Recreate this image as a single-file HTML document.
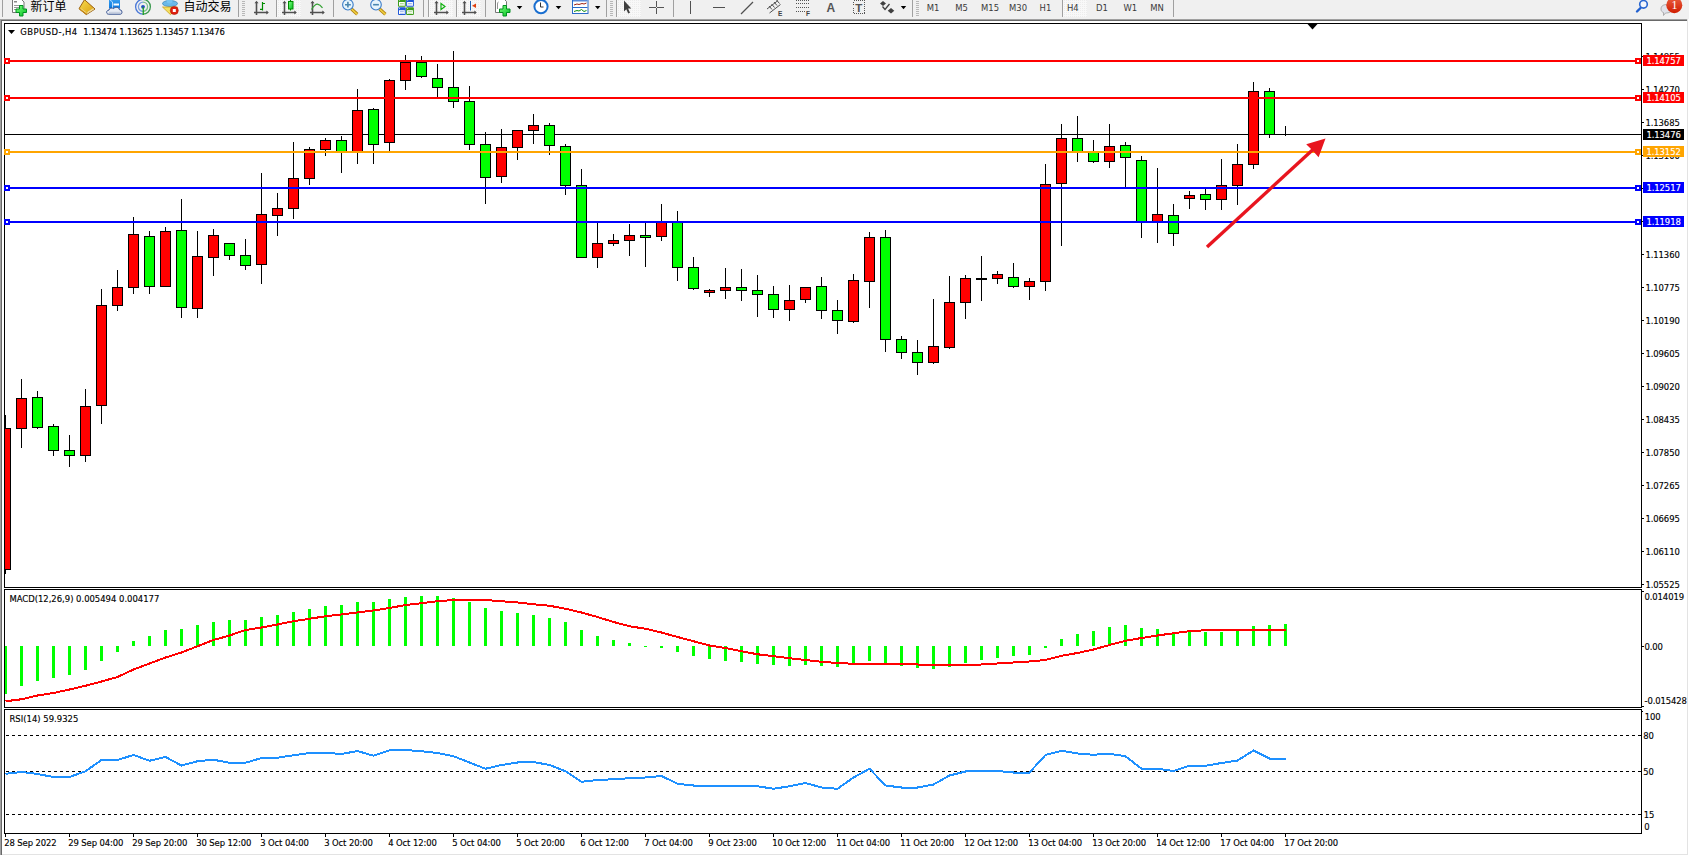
<!DOCTYPE html>
<html><head><meta charset="utf-8"><title>GBPUSD H4</title>
<style>
html,body{margin:0;padding:0;width:1689px;height:856px;overflow:hidden;background:#fff;}
#tb{position:absolute;left:0;top:0;width:1689px;height:19px;background:#f0f0f0;overflow:hidden;}
#ch{position:absolute;left:0;top:0;}
.ax{font-family:"DejaVu Sans Condensed", "DejaVu Sans", sans-serif;font-size:9.4px;letter-spacing:-0.1px;fill:#000;stroke:#000;stroke-width:0.14px;}
.axw{fill:#fff;stroke:#fff;}
</style></head><body>
<div id="tb">
<svg width="1689" height="19" viewBox="0 0 1689 19" style="position:absolute;left:0;top:0">
<defs>
<linearGradient id="gGold" x1="0" y1="0" x2="1" y2="1"><stop offset="0" stop-color="#f8dc50"/><stop offset="1" stop-color="#d89c10"/></linearGradient>
<linearGradient id="gBlue" x1="0" y1="0" x2="0" y2="1"><stop offset="0" stop-color="#3aa0f0"/><stop offset="1" stop-color="#0a78e0"/></linearGradient>
<linearGradient id="gGreen" x1="0" y1="0" x2="1" y2="1"><stop offset="0" stop-color="#80ff80"/><stop offset="1" stop-color="#00c020"/></linearGradient>
<linearGradient id="gNot" x1="0" y1="0" x2="0" y2="1"><stop offset="0" stop-color="#ea6040"/><stop offset="1" stop-color="#d01c00"/></linearGradient>
<pattern id="hatch" width="2" height="2" patternUnits="userSpaceOnUse"><rect width="2" height="2" fill="#f8f8f8"/><rect width="1" height="1" fill="#ececec"/></pattern>
</defs>
<!-- separators / grips -->
<g fill="#a0a0a0" shape-rendering="crispEdges">
<rect x="2" y="0" width="1" height="17"/>
<rect x="238" y="0" width="1" height="17"/>
<rect x="276" y="0" width="1" height="17"/>
<rect x="333" y="0" width="1" height="17"/>
<rect x="423" y="0" width="1" height="17"/>
<rect x="428" y="0" width="1" height="17"/>
<rect x="456" y="0" width="1" height="17"/>
<rect x="485" y="0" width="1" height="17"/>
<rect x="606" y="0" width="1" height="17"/>
<rect x="616" y="0" width="1" height="17"/>
<rect x="673" y="0" width="1" height="17"/>
<rect x="912" y="0" width="1" height="17"/>
<rect x="1062" y="0" width="1" height="17"/>
<rect x="1173" y="0" width="1" height="17"/>
</g>
<g fill="#b8b8b8" shape-rendering="crispEdges">
<rect x="242" y="1" width="3" height="1"/><rect x="242" y="3" width="3" height="1"/><rect x="242" y="5" width="3" height="1"/><rect x="242" y="7" width="3" height="1"/><rect x="242" y="9" width="3" height="1"/><rect x="242" y="11" width="3" height="1"/><rect x="242" y="13" width="3" height="1"/><rect x="242" y="15" width="3" height="1"/>
<rect x="610" y="1" width="3" height="1"/><rect x="610" y="3" width="3" height="1"/><rect x="610" y="5" width="3" height="1"/><rect x="610" y="7" width="3" height="1"/><rect x="610" y="9" width="3" height="1"/><rect x="610" y="11" width="3" height="1"/><rect x="610" y="13" width="3" height="1"/><rect x="610" y="15" width="3" height="1"/>
<rect x="916" y="1" width="3" height="1"/><rect x="916" y="3" width="3" height="1"/><rect x="916" y="5" width="3" height="1"/><rect x="916" y="7" width="3" height="1"/><rect x="916" y="9" width="3" height="1"/><rect x="916" y="11" width="3" height="1"/><rect x="916" y="13" width="3" height="1"/><rect x="916" y="15" width="3" height="1"/>
</g>
<!-- pressed button backgrounds -->
<g shape-rendering="crispEdges">
<rect x="277" y="0" width="24" height="17" fill="url(#hatch)"/>
<rect x="429" y="0" width="24" height="17" fill="url(#hatch)"/>
<rect x="457" y="0" width="24" height="17" fill="url(#hatch)"/>
<rect x="617" y="0" width="24" height="17" fill="url(#hatch)"/>
<rect x="1063" y="0" width="24" height="17" fill="url(#hatch)"/>
</g>
<!-- new order: doc + plus -->
<path d="M12.5,-1 L21,-1 L24,2 L24,12.5 L12.5,12.5 Z" fill="#fff" stroke="#777" stroke-width="1"/>
<rect x="14" y="1" width="3" height="1.5" fill="#888"/><rect x="14" y="5" width="6" height="1" fill="#999"/><rect x="14" y="7" width="5" height="1" fill="#999"/><rect x="14" y="9" width="4" height="1" fill="#999"/>
<path d="M19.5,5.5 h3.5 v3.5 h3.5 v3.5 h-3.5 v3.5 h-3.5 v-3.5 h-3.5 v-3.5 h3.5 z" fill="url(#gGreen)" stroke="#009020" stroke-width="1"/>
<!-- gold book -->
<path d="M84.5,-0.3 L79,8.7 L86.3,14.6 L95,9 Z" fill="url(#gGold)" stroke="#9a6010" stroke-width="1"/>
<path d="M79.8,8.9 L86.3,13.9" stroke="#c88a18" stroke-width="1.6"/>
<path d="M80.5,8.4 L86.5,12.9" stroke="#f8e8a0" stroke-width="0.8"/>
<path d="M87,13.4 L94,9 M87.5,12.3 L93.5,8.5" stroke="#f4ecc8" stroke-width="0.7"/>
<!-- server + cloud -->
<path d="M109,-1 L120,-1 L120,8.5 L109,8.5 Z" fill="url(#gBlue)"/>
<path d="M109,-1 L112.5,2 L112.5,8.5" fill="none" stroke="#e0f0ff" stroke-width="0.8"/>
<rect x="113.5" y="3.5" width="5.5" height="2" fill="#fff"/>
<path d="M108.5,14.2 C106,14.2 106,10.2 108.8,10.2 C109.2,8 112,7.3 113.6,8.6 C115.2,6.4 119,7 119.4,9.6 C122.3,9.5 123,14.2 120.2,14.2 Z" fill="#e8ecf4" stroke="#34508e" stroke-width="1"/>
<path d="M109,12.5 H120.5" stroke="#c8d0e0" stroke-width="1.5"/>
<!-- signal -->
<g fill="none" stroke-width="1.3">
<path d="M143,14.2 A7.4,7.4 0 0 1 143,-0.6" stroke="#4a78d8"/>
<path d="M143,-0.6 A7.4,7.4 0 0 1 143,14.2" stroke="#3c9a50"/>
<path d="M143,11.4 A4.6,4.6 0 0 1 143,2.2" stroke="#7a9ee0"/>
<path d="M143,2.2 A4.6,4.6 0 0 1 143,11.4" stroke="#7ac088"/>
</g>
<circle cx="143" cy="6.8" r="1.9" fill="#2050c0"/>
<rect x="142.6" y="7" width="1.3" height="8" fill="#20a020"/>
<!-- auto trading -->
<ellipse cx="170" cy="3.5" rx="7.5" ry="3" fill="#6ab8e8" stroke="#3a88b8" stroke-width="0.8"/>
<ellipse cx="169.5" cy="0.5" rx="3" ry="3" fill="#78c4f0"/>
<path d="M162.5,7 L177.5,7 L170.5,14.7 Z" fill="#f4e060" stroke="#c8a020" stroke-width="0.8"/>
<circle cx="174.3" cy="10.5" r="4" fill="#e02010" stroke="#b01000" stroke-width="0.6"/>
<rect x="172.8" y="9" width="3" height="3" fill="#fff"/>
<!-- bar chart icon -->
<g stroke="#505050" stroke-width="1.6" fill="none">
<path d="M256.5,2 V15 M254,12.5 H268"/>
<path d="M284.5,2 V15 M282,12.5 H296"/>
<path d="M312.5,2 V15 M310,12.5 H324"/>
</g>
<g fill="#505050">
<path d="M256.5,0.8 L254.5,3.3 L258.5,3.3 Z"/><path d="M268.8,12.5 L266.3,10.5 L266.3,14.5 Z"/>
<path d="M284.5,0.8 L282.5,3.3 L286.5,3.3 Z"/><path d="M296.8,12.5 L294.3,10.5 L294.3,14.5 Z"/>
<path d="M312.5,0.8 L310.5,3.3 L314.5,3.3 Z"/><path d="M324.8,12.5 L322.3,10.5 L322.3,14.5 Z"/>
</g>
<g stroke="#008c00" stroke-width="1.2" fill="none">
<path d="M262.5,2 V10.5 M262.5,3.5 H265 M262.5,9.3 H260"/>
<path d="M290.5,-1 V10.5"/>
<path d="M311.5,9.5 Q315,4 317.5,4.2 Q320,4.5 322.5,7.8" stroke="#30a030"/>
</g>
<rect x="288.5" y="1.5" width="4.5" height="7.5" fill="url(#gGreen)" stroke="#008c00" stroke-width="1"/>
<!-- zoom in/out -->
<g>
<path d="M351.5,9 L357.3,14.3" stroke="#b08010" stroke-width="3.2"/><path d="M351.5,9 L357.3,14.3" stroke="#f0d040" stroke-width="1.6"/>
<circle cx="347.9" cy="4.7" r="5.3" fill="#e6f4fc" stroke="#3a7cc8" stroke-width="1.1"/>
<path d="M347.9,1.8 V7.6 M345,4.7 H350.8" stroke="#4a86b0" stroke-width="1.6"/>
<path d="M379.6,9 L385.4,14.3" stroke="#b08010" stroke-width="3.2"/><path d="M379.6,9 L385.4,14.3" stroke="#f0d040" stroke-width="1.6"/>
<circle cx="376" cy="4.7" r="5.3" fill="#e6f4fc" stroke="#3a7cc8" stroke-width="1.1"/>
<path d="M373.1,4.7 H378.9" stroke="#4a86b0" stroke-width="1.6"/>
</g>
<!-- tile -->
<rect x="398" y="-0.9" width="7.8" height="7.6" rx="1" fill="#3c9c1c"/><rect x="399" y="2.0" width="5.8" height="3.8" fill="#fff"/><rect x="399" y="-0.30000000000000004" width="1" height="1" fill="#e0ffe0" opacity="0.8"/><rect x="400" y="3.0" width="3.8" height="0.9" fill="#a8d890"/><rect x="400" y="4.699999999999999" width="3.8" height="0.7" fill="#a8d890"/><rect x="406.1" y="-0.9" width="7.8" height="7.6" rx="1" fill="#2058d8"/><rect x="407.1" y="2.0" width="5.8" height="3.8" fill="#fff"/><rect x="407.1" y="-0.30000000000000004" width="1" height="1" fill="#e0ffe0" opacity="0.8"/><rect x="408.1" y="3.0" width="3.8" height="0.9" fill="#98b0e8"/><rect x="408.1" y="4.699999999999999" width="3.8" height="0.7" fill="#98b0e8"/><rect x="398" y="7.3" width="7.8" height="7.6" rx="1" fill="#2058d8"/><rect x="399" y="10.2" width="5.8" height="3.8" fill="#fff"/><rect x="399" y="7.8999999999999995" width="1" height="1" fill="#e0ffe0" opacity="0.8"/><rect x="400" y="11.2" width="3.8" height="0.9" fill="#98b0e8"/><rect x="400" y="12.899999999999999" width="3.8" height="0.7" fill="#98b0e8"/><rect x="406.1" y="7.3" width="7.8" height="7.6" rx="1" fill="#3c9c1c"/><rect x="407.1" y="10.2" width="5.8" height="3.8" fill="#fff"/><rect x="407.1" y="7.8999999999999995" width="1" height="1" fill="#e0ffe0" opacity="0.8"/><rect x="408.1" y="11.2" width="3.8" height="0.9" fill="#a8d890"/><rect x="408.1" y="12.899999999999999" width="3.8" height="0.7" fill="#a8d890"/>
<!-- autoscroll & chart shift -->
<g stroke="#505050" stroke-width="1.6" fill="none">
<path d="M436.5,2 V15 M434,12.5 H448"/>
<path d="M464.5,2 V15 M462,12.5 H476"/>
</g>
<g fill="#505050">
<path d="M436.5,0.8 L434.5,3.3 L438.5,3.3 Z"/><path d="M448.8,12.5 L446.3,10.5 L446.3,14.5 Z"/>
<path d="M464.5,0.8 L462.5,3.3 L466.5,3.3 Z"/><path d="M476.8,12.5 L474.3,10.5 L474.3,14.5 Z"/>
</g>
<path d="M441,3.5 L445,6.5 L441,9.5 Z" fill="none" stroke="#10b010" stroke-width="1.2"/>
<rect x="470" y="1" width="1" height="9.5" fill="#2060b0"/>
<path d="M472,5.8 L476,3.5 L476,8 Z" fill="#e04010"/>
<!-- indicators -->
<path d="M495.5,-1 L504,-1 L506.5,1.5 L506.5,12.5 L495.5,12.5 Z" fill="#fff" stroke="#777" stroke-width="1"/>
<path d="M498.5,2 Q497.5,2 497.5,4 L497.5,9" fill="none" stroke="#777" stroke-width="0.8"/>
<path d="M503,5.5 h3.5 v3.5 h3.5 v3.5 h-3.5 v3.5 h-3.5 v-3.5 h-3.5 v-3.5 h3.5 z" fill="url(#gGreen)" stroke="#009020" stroke-width="1"/>
<!-- clock -->
<circle cx="541" cy="6.6" r="6.6" fill="#fff" stroke="#1a6fd0" stroke-width="2"/>
<path d="M540.5,2.5 V7 H543.5" fill="none" stroke="#333" stroke-width="1"/>
<!-- templates -->
<rect x="572.5" y="-0.5" width="15.5" height="14" fill="#fff" stroke="#2a6ac8" stroke-width="1"/>
<rect x="573" y="0" width="14.5" height="1.5" fill="#5a8ad8"/>
<rect x="573" y="7" width="14.5" height="1" fill="#2a6ac8"/>
<path d="M574,5 L577,4 L579,4.5 L582,3.5 L584,4 L586.5,3" fill="none" stroke="#a02010" stroke-width="1"/>
<path d="M574,11.5 L577,10.5 L579,11 L581.5,9.5 L584,11.5 L586.5,10.5" fill="none" stroke="#109010" stroke-width="1"/>
<!-- dropdown arrows -->
<g fill="#000">
<path d="M516.8,6 L522.3,6 L519.55,9.3 Z"/>
<path d="M555.7,6 L561.3,6 L558.5,9.3 Z"/>
<path d="M595,6 L600.4,6 L597.7,9.3 Z"/>
<path d="M900.8,6 L906.2,6 L903.5,9.3 Z"/>
</g>
<!-- cursor -->
<path d="M624,0.5 L624,11.5 L626.3,9.3 L628.2,13.6 L630,12.8 L628.1,8.6 L631.3,8.4 Z" fill="#404040"/>
<!-- crosshair -->
<g fill="#555" shape-rendering="crispEdges">
<rect x="656" y="1" width="1" height="13"/><rect x="649" y="7" width="15" height="1"/>
</g>
<rect x="656" y="7" width="1" height="1" fill="#f0f0f0" shape-rendering="crispEdges"/>
<!-- vertical / horizontal / trend -->
<g fill="#505050" shape-rendering="crispEdges">
<rect x="690" y="1" width="1.3" height="12.5"/>
<rect x="713" y="7" width="12" height="1.2"/>
</g>
<path d="M741,14 L753,2" stroke="#505050" stroke-width="1.2"/>
<!-- channel E -->
<g stroke="#505050" stroke-width="1" fill="none">
<path d="M767,9 L778,0.5 M769.5,13 L780.5,4.5"/>
<path d="M769,6 L772,9.5 M771.5,4 L774.5,7.5 M774,2 L777,5.5 M776.5,0 L779.5,3.5"/>
</g>
<text x="778" y="15.5" style="font-family:'Liberation Sans',sans-serif;font-size:6.5px;font-weight:bold;fill:#404040">E</text>
<!-- fibo F -->
<g stroke="#555" stroke-width="1" stroke-dasharray="1 1" shape-rendering="crispEdges">
<path d="M796,0.5 H810 M796,3.5 H810 M796,7.5 H810 M796,11.5 H805"/>
</g>
<text x="806" y="15.5" style="font-family:'Liberation Sans',sans-serif;font-size:6.5px;font-weight:bold;fill:#404040">F</text>
<!-- A text -->
<text x="826.5" y="12.2" style="font-family:'Liberation Sans',sans-serif;font-size:12px;font-weight:bold;fill:#555">A</text>
<!-- T label -->
<rect x="853.5" y="0.5" width="11" height="13" fill="none" stroke="#555" stroke-width="1" stroke-dasharray="1 1" shape-rendering="crispEdges"/>
<text x="855.2" y="11.8" style="font-family:'Liberation Sans',sans-serif;font-size:11.5px;font-weight:bold;fill:#555">T</text>
<!-- arrows icon -->
<path d="M883,1 L886,3.5 L883,6 L880,3.5 Z" fill="#404040"/>
<path d="M891,8 L894.3,10.8 L891,13.6 L887.7,10.8 Z" fill="#404040"/>
<path d="M882.5,6.5 L885,9.5 L889.5,4" fill="none" stroke="#404040" stroke-width="1.3"/>
<!-- search -->
<path d="M1637,11.5 L1640.5,8" stroke="#2060d0" stroke-width="2.4" stroke-linecap="round"/>
<circle cx="1643.5" cy="4.3" r="3.8" fill="#f4f6fc" stroke="#2a66d0" stroke-width="1.6"/>
<!-- notification -->
<path d="M1661,9 C1661,5.5 1664,4.5 1667,4.5 C1670,4.5 1672,6 1672,9 C1672,12 1669,13 1665.5,13 L1663.5,15.5 L1663.5,12.5 C1662,12 1661,11 1661,9 Z" fill="#e0e2ea" stroke="#a0a0a0" stroke-width="0.8"/>
<circle cx="1674.3" cy="5.2" r="8" fill="url(#gNot)"/>
<text x="1671.4" y="9.2" style="font-family:'Liberation Serif',serif;font-size:12px;fill:#fff">1</text>
<g style="font-family:'Liberation Sans','Noto Sans CJK SC',sans-serif;font-size:12px;fill:#000">
<text x="30.5" y="10.5">新订单</text>
<text x="183.5" y="10.5">自动交易</text>
</g>
<g style="font-family:'DejaVu Sans Condensed','DejaVu Sans',sans-serif;font-size:9.4px;fill:#3a3a3a">
<text x="926.8" y="11">M1</text>
<text x="955.3" y="11">M5</text>
<text x="981" y="11">M15</text>
<text x="1009" y="11">M30</text>
<text x="1039.6" y="11">H1</text>
<text x="1067" y="11">H4</text>
<text x="1096" y="11">D1</text>
<text x="1123.4" y="11">W1</text>
<text x="1150.3" y="11">MN</text>
</g>
</svg>

</div>
<svg id="ch" width="1689" height="856" viewBox="0 0 1689 856" shape-rendering="crispEdges">
<rect x="0" y="19" width="1687" height="1" fill="#a0a0a0"/>
<rect x="1" y="20" width="1686" height="1" fill="#696969"/>
<rect x="0" y="19" width="1" height="836" fill="#a0a0a0"/>
<rect x="1" y="20" width="1" height="835" fill="#696969"/>
<rect x="1687" y="19" width="1" height="836" fill="#e3e3e3"/>
<rect x="2" y="854" width="1686" height="1" fill="#e3e3e3"/>
<rect x="4" y="23" width="1638" height="1" fill="#000"/>
<rect x="4" y="587" width="1638" height="1" fill="#000"/>
<rect x="4" y="23" width="1" height="565" fill="#000"/>
<rect x="1641" y="23" width="1" height="565" fill="#000"/>
<rect x="4" y="589" width="1638" height="1" fill="#000"/>
<rect x="4" y="707" width="1638" height="1" fill="#000"/>
<rect x="4" y="589" width="1" height="119" fill="#000"/>
<rect x="1641" y="589" width="1" height="119" fill="#000"/>
<rect x="4" y="709" width="1638" height="1" fill="#000"/>
<rect x="4" y="833" width="1638" height="1" fill="#000"/>
<rect x="4" y="709" width="1" height="125" fill="#000"/>
<rect x="1641" y="709" width="1" height="125" fill="#000"/>
<defs><clipPath id="cm"><rect x="5" y="24" width="1636" height="563"/></clipPath><clipPath id="cmacd"><rect x="5" y="590" width="1636" height="117"/></clipPath><clipPath id="crsi"><rect x="5" y="710" width="1636" height="123"/></clipPath></defs>
<g clip-path="url(#cm)">
<rect x="5" y="134" width="1636" height="1" fill="#000"/>
<rect x="5" y="415" width="1" height="13" fill="#000"/>
<rect x="5" y="570" width="1" height="4" fill="#000"/>
<rect x="0" y="428" width="11" height="142" fill="#000"/>
<rect x="1" y="429" width="9" height="140" fill="#FF0000"/>
<rect x="21" y="379" width="1" height="19" fill="#000"/>
<rect x="21" y="429" width="1" height="19" fill="#000"/>
<rect x="16" y="398" width="11" height="31" fill="#000"/>
<rect x="17" y="399" width="9" height="29" fill="#FF0000"/>
<rect x="37" y="391" width="1" height="6" fill="#000"/>
<rect x="37" y="428" width="1" height="1" fill="#000"/>
<rect x="32" y="397" width="11" height="31" fill="#000"/>
<rect x="33" y="398" width="9" height="29" fill="#00FF00"/>
<rect x="53" y="424" width="1" height="2" fill="#000"/>
<rect x="53" y="451" width="1" height="5" fill="#000"/>
<rect x="48" y="426" width="11" height="25" fill="#000"/>
<rect x="49" y="427" width="9" height="23" fill="#00FF00"/>
<rect x="69" y="435" width="1" height="15" fill="#000"/>
<rect x="69" y="456" width="1" height="11" fill="#000"/>
<rect x="64" y="450" width="11" height="6" fill="#000"/>
<rect x="65" y="451" width="9" height="4" fill="#00FF00"/>
<rect x="85" y="389" width="1" height="17" fill="#000"/>
<rect x="85" y="456" width="1" height="6" fill="#000"/>
<rect x="80" y="406" width="11" height="50" fill="#000"/>
<rect x="81" y="407" width="9" height="48" fill="#FF0000"/>
<rect x="101" y="289" width="1" height="16" fill="#000"/>
<rect x="101" y="406" width="1" height="18" fill="#000"/>
<rect x="96" y="305" width="11" height="101" fill="#000"/>
<rect x="97" y="306" width="9" height="99" fill="#FF0000"/>
<rect x="117" y="270" width="1" height="17" fill="#000"/>
<rect x="117" y="306" width="1" height="5" fill="#000"/>
<rect x="112" y="287" width="11" height="19" fill="#000"/>
<rect x="113" y="288" width="9" height="17" fill="#FF0000"/>
<rect x="133" y="217" width="1" height="17" fill="#000"/>
<rect x="133" y="288" width="1" height="6" fill="#000"/>
<rect x="128" y="234" width="11" height="54" fill="#000"/>
<rect x="129" y="235" width="9" height="52" fill="#FF0000"/>
<rect x="149" y="231" width="1" height="5" fill="#000"/>
<rect x="149" y="287" width="1" height="7" fill="#000"/>
<rect x="144" y="236" width="11" height="51" fill="#000"/>
<rect x="145" y="237" width="9" height="49" fill="#00FF00"/>
<rect x="165" y="227" width="1" height="4" fill="#000"/>
<rect x="160" y="231" width="11" height="56" fill="#000"/>
<rect x="161" y="232" width="9" height="54" fill="#FF0000"/>
<rect x="181" y="199" width="1" height="31" fill="#000"/>
<rect x="181" y="308" width="1" height="10" fill="#000"/>
<rect x="176" y="230" width="11" height="78" fill="#000"/>
<rect x="177" y="231" width="9" height="76" fill="#00FF00"/>
<rect x="197" y="231" width="1" height="25" fill="#000"/>
<rect x="197" y="309" width="1" height="9" fill="#000"/>
<rect x="192" y="256" width="11" height="53" fill="#000"/>
<rect x="193" y="257" width="9" height="51" fill="#FF0000"/>
<rect x="213" y="229" width="1" height="6" fill="#000"/>
<rect x="213" y="258" width="1" height="18" fill="#000"/>
<rect x="208" y="235" width="11" height="23" fill="#000"/>
<rect x="209" y="236" width="9" height="21" fill="#FF0000"/>
<rect x="229" y="256" width="1" height="4" fill="#000"/>
<rect x="224" y="243" width="11" height="13" fill="#000"/>
<rect x="225" y="244" width="9" height="11" fill="#00FF00"/>
<rect x="245" y="239" width="1" height="16" fill="#000"/>
<rect x="245" y="266" width="1" height="4" fill="#000"/>
<rect x="240" y="255" width="11" height="11" fill="#000"/>
<rect x="241" y="256" width="9" height="9" fill="#00FF00"/>
<rect x="261" y="173" width="1" height="41" fill="#000"/>
<rect x="261" y="265" width="1" height="19" fill="#000"/>
<rect x="256" y="214" width="11" height="51" fill="#000"/>
<rect x="257" y="215" width="9" height="49" fill="#FF0000"/>
<rect x="277" y="193" width="1" height="15" fill="#000"/>
<rect x="277" y="216" width="1" height="20" fill="#000"/>
<rect x="272" y="208" width="11" height="8" fill="#000"/>
<rect x="273" y="209" width="9" height="6" fill="#FF0000"/>
<rect x="293" y="142" width="1" height="36" fill="#000"/>
<rect x="293" y="209" width="1" height="10" fill="#000"/>
<rect x="288" y="178" width="11" height="31" fill="#000"/>
<rect x="289" y="179" width="9" height="29" fill="#FF0000"/>
<rect x="309" y="147" width="1" height="2" fill="#000"/>
<rect x="309" y="179" width="1" height="6" fill="#000"/>
<rect x="304" y="149" width="11" height="30" fill="#000"/>
<rect x="305" y="150" width="9" height="28" fill="#FF0000"/>
<rect x="325" y="138" width="1" height="2" fill="#000"/>
<rect x="325" y="150" width="1" height="6" fill="#000"/>
<rect x="320" y="140" width="11" height="10" fill="#000"/>
<rect x="321" y="141" width="9" height="8" fill="#FF0000"/>
<rect x="341" y="136" width="1" height="4" fill="#000"/>
<rect x="341" y="152" width="1" height="21" fill="#000"/>
<rect x="336" y="140" width="11" height="12" fill="#000"/>
<rect x="337" y="141" width="9" height="10" fill="#00FF00"/>
<rect x="357" y="89" width="1" height="21" fill="#000"/>
<rect x="357" y="152" width="1" height="12" fill="#000"/>
<rect x="352" y="110" width="11" height="42" fill="#000"/>
<rect x="353" y="111" width="9" height="40" fill="#FF0000"/>
<rect x="373" y="108" width="1" height="1" fill="#000"/>
<rect x="373" y="145" width="1" height="19" fill="#000"/>
<rect x="368" y="109" width="11" height="36" fill="#000"/>
<rect x="369" y="110" width="9" height="34" fill="#00FF00"/>
<rect x="389" y="79" width="1" height="1" fill="#000"/>
<rect x="389" y="143" width="1" height="8" fill="#000"/>
<rect x="384" y="80" width="11" height="63" fill="#000"/>
<rect x="385" y="81" width="9" height="61" fill="#FF0000"/>
<rect x="405" y="55" width="1" height="7" fill="#000"/>
<rect x="405" y="81" width="1" height="9" fill="#000"/>
<rect x="400" y="62" width="11" height="19" fill="#000"/>
<rect x="401" y="63" width="9" height="17" fill="#FF0000"/>
<rect x="421" y="56" width="1" height="6" fill="#000"/>
<rect x="421" y="77" width="1" height="1" fill="#000"/>
<rect x="416" y="62" width="11" height="15" fill="#000"/>
<rect x="417" y="63" width="9" height="13" fill="#00FF00"/>
<rect x="437" y="64" width="1" height="14" fill="#000"/>
<rect x="437" y="88" width="1" height="10" fill="#000"/>
<rect x="432" y="78" width="11" height="10" fill="#000"/>
<rect x="433" y="79" width="9" height="8" fill="#00FF00"/>
<rect x="453" y="51" width="1" height="36" fill="#000"/>
<rect x="453" y="102" width="1" height="6" fill="#000"/>
<rect x="448" y="87" width="11" height="15" fill="#000"/>
<rect x="449" y="88" width="9" height="13" fill="#00FF00"/>
<rect x="469" y="86" width="1" height="15" fill="#000"/>
<rect x="469" y="145" width="1" height="5" fill="#000"/>
<rect x="464" y="101" width="11" height="44" fill="#000"/>
<rect x="465" y="102" width="9" height="42" fill="#00FF00"/>
<rect x="485" y="132" width="1" height="12" fill="#000"/>
<rect x="485" y="178" width="1" height="26" fill="#000"/>
<rect x="480" y="144" width="11" height="34" fill="#000"/>
<rect x="481" y="145" width="9" height="32" fill="#00FF00"/>
<rect x="501" y="129" width="1" height="18" fill="#000"/>
<rect x="501" y="177" width="1" height="6" fill="#000"/>
<rect x="496" y="147" width="11" height="30" fill="#000"/>
<rect x="497" y="148" width="9" height="28" fill="#FF0000"/>
<rect x="517" y="148" width="1" height="12" fill="#000"/>
<rect x="512" y="130" width="11" height="18" fill="#000"/>
<rect x="513" y="131" width="9" height="16" fill="#FF0000"/>
<rect x="533" y="114" width="1" height="11" fill="#000"/>
<rect x="533" y="131" width="1" height="13" fill="#000"/>
<rect x="528" y="125" width="11" height="6" fill="#000"/>
<rect x="529" y="126" width="9" height="4" fill="#FF0000"/>
<rect x="549" y="123" width="1" height="2" fill="#000"/>
<rect x="549" y="146" width="1" height="9" fill="#000"/>
<rect x="544" y="125" width="11" height="21" fill="#000"/>
<rect x="545" y="126" width="9" height="19" fill="#00FF00"/>
<rect x="565" y="144" width="1" height="2" fill="#000"/>
<rect x="565" y="186" width="1" height="9" fill="#000"/>
<rect x="560" y="146" width="11" height="40" fill="#000"/>
<rect x="561" y="147" width="9" height="38" fill="#00FF00"/>
<rect x="581" y="169" width="1" height="16" fill="#000"/>
<rect x="576" y="185" width="11" height="73" fill="#000"/>
<rect x="577" y="186" width="9" height="71" fill="#00FF00"/>
<rect x="597" y="223" width="1" height="20" fill="#000"/>
<rect x="597" y="258" width="1" height="10" fill="#000"/>
<rect x="592" y="243" width="11" height="15" fill="#000"/>
<rect x="593" y="244" width="9" height="13" fill="#FF0000"/>
<rect x="613" y="234" width="1" height="6" fill="#000"/>
<rect x="613" y="244" width="1" height="2" fill="#000"/>
<rect x="608" y="240" width="11" height="4" fill="#000"/>
<rect x="609" y="241" width="9" height="2" fill="#FF0000"/>
<rect x="629" y="224" width="1" height="11" fill="#000"/>
<rect x="629" y="241" width="1" height="15" fill="#000"/>
<rect x="624" y="235" width="11" height="6" fill="#000"/>
<rect x="625" y="236" width="9" height="4" fill="#FF0000"/>
<rect x="645" y="223" width="1" height="12" fill="#000"/>
<rect x="645" y="238" width="1" height="29" fill="#000"/>
<rect x="640" y="235" width="11" height="3" fill="#000"/>
<rect x="641" y="236" width="9" height="1" fill="#00FF00"/>
<rect x="661" y="204" width="1" height="18" fill="#000"/>
<rect x="661" y="237" width="1" height="4" fill="#000"/>
<rect x="656" y="222" width="11" height="15" fill="#000"/>
<rect x="657" y="223" width="9" height="13" fill="#FF0000"/>
<rect x="677" y="211" width="1" height="11" fill="#000"/>
<rect x="677" y="268" width="1" height="13" fill="#000"/>
<rect x="672" y="222" width="11" height="46" fill="#000"/>
<rect x="673" y="223" width="9" height="44" fill="#00FF00"/>
<rect x="693" y="257" width="1" height="10" fill="#000"/>
<rect x="693" y="289" width="1" height="1" fill="#000"/>
<rect x="688" y="267" width="11" height="22" fill="#000"/>
<rect x="689" y="268" width="9" height="20" fill="#00FF00"/>
<rect x="709" y="289" width="1" height="1" fill="#000"/>
<rect x="709" y="293" width="1" height="4" fill="#000"/>
<rect x="704" y="290" width="11" height="3" fill="#000"/>
<rect x="705" y="291" width="9" height="1" fill="#FF0000"/>
<rect x="725" y="268" width="1" height="19" fill="#000"/>
<rect x="725" y="291" width="1" height="8" fill="#000"/>
<rect x="720" y="287" width="11" height="4" fill="#000"/>
<rect x="721" y="288" width="9" height="2" fill="#FF0000"/>
<rect x="741" y="269" width="1" height="18" fill="#000"/>
<rect x="741" y="291" width="1" height="10" fill="#000"/>
<rect x="736" y="287" width="11" height="4" fill="#000"/>
<rect x="737" y="288" width="9" height="2" fill="#00FF00"/>
<rect x="757" y="275" width="1" height="15" fill="#000"/>
<rect x="757" y="295" width="1" height="22" fill="#000"/>
<rect x="752" y="290" width="11" height="5" fill="#000"/>
<rect x="753" y="291" width="9" height="3" fill="#00FF00"/>
<rect x="773" y="286" width="1" height="8" fill="#000"/>
<rect x="773" y="310" width="1" height="8" fill="#000"/>
<rect x="768" y="294" width="11" height="16" fill="#000"/>
<rect x="769" y="295" width="9" height="14" fill="#00FF00"/>
<rect x="789" y="285" width="1" height="15" fill="#000"/>
<rect x="789" y="310" width="1" height="11" fill="#000"/>
<rect x="784" y="300" width="11" height="10" fill="#000"/>
<rect x="785" y="301" width="9" height="8" fill="#FF0000"/>
<rect x="805" y="300" width="1" height="3" fill="#000"/>
<rect x="800" y="287" width="11" height="13" fill="#000"/>
<rect x="801" y="288" width="9" height="11" fill="#FF0000"/>
<rect x="821" y="277" width="1" height="9" fill="#000"/>
<rect x="821" y="311" width="1" height="8" fill="#000"/>
<rect x="816" y="286" width="11" height="25" fill="#000"/>
<rect x="817" y="287" width="9" height="23" fill="#00FF00"/>
<rect x="837" y="300" width="1" height="10" fill="#000"/>
<rect x="837" y="321" width="1" height="13" fill="#000"/>
<rect x="832" y="310" width="11" height="11" fill="#000"/>
<rect x="833" y="311" width="9" height="9" fill="#00FF00"/>
<rect x="853" y="274" width="1" height="6" fill="#000"/>
<rect x="853" y="322" width="1" height="1" fill="#000"/>
<rect x="848" y="280" width="11" height="42" fill="#000"/>
<rect x="849" y="281" width="9" height="40" fill="#FF0000"/>
<rect x="869" y="232" width="1" height="5" fill="#000"/>
<rect x="869" y="282" width="1" height="26" fill="#000"/>
<rect x="864" y="237" width="11" height="45" fill="#000"/>
<rect x="865" y="238" width="9" height="43" fill="#FF0000"/>
<rect x="885" y="230" width="1" height="7" fill="#000"/>
<rect x="885" y="340" width="1" height="12" fill="#000"/>
<rect x="880" y="237" width="11" height="103" fill="#000"/>
<rect x="881" y="238" width="9" height="101" fill="#00FF00"/>
<rect x="901" y="336" width="1" height="3" fill="#000"/>
<rect x="901" y="353" width="1" height="6" fill="#000"/>
<rect x="896" y="339" width="11" height="14" fill="#000"/>
<rect x="897" y="340" width="9" height="12" fill="#00FF00"/>
<rect x="917" y="340" width="1" height="12" fill="#000"/>
<rect x="917" y="363" width="1" height="12" fill="#000"/>
<rect x="912" y="352" width="11" height="11" fill="#000"/>
<rect x="913" y="353" width="9" height="9" fill="#00FF00"/>
<rect x="933" y="299" width="1" height="47" fill="#000"/>
<rect x="933" y="363" width="1" height="1" fill="#000"/>
<rect x="928" y="346" width="11" height="17" fill="#000"/>
<rect x="929" y="347" width="9" height="15" fill="#FF0000"/>
<rect x="949" y="276" width="1" height="26" fill="#000"/>
<rect x="949" y="348" width="1" height="1" fill="#000"/>
<rect x="944" y="302" width="11" height="46" fill="#000"/>
<rect x="945" y="303" width="9" height="44" fill="#FF0000"/>
<rect x="965" y="275" width="1" height="3" fill="#000"/>
<rect x="965" y="303" width="1" height="16" fill="#000"/>
<rect x="960" y="278" width="11" height="25" fill="#000"/>
<rect x="961" y="279" width="9" height="23" fill="#FF0000"/>
<rect x="981" y="256" width="1" height="45" fill="#000"/>
<rect x="976" y="278" width="11" height="2" fill="#000"/>
<rect x="997" y="271" width="1" height="3" fill="#000"/>
<rect x="997" y="279" width="1" height="5" fill="#000"/>
<rect x="992" y="274" width="11" height="5" fill="#000"/>
<rect x="993" y="275" width="9" height="3" fill="#FF0000"/>
<rect x="1013" y="263" width="1" height="14" fill="#000"/>
<rect x="1013" y="287" width="1" height="1" fill="#000"/>
<rect x="1008" y="277" width="11" height="10" fill="#000"/>
<rect x="1009" y="278" width="9" height="8" fill="#00FF00"/>
<rect x="1029" y="278" width="1" height="3" fill="#000"/>
<rect x="1029" y="287" width="1" height="13" fill="#000"/>
<rect x="1024" y="281" width="11" height="6" fill="#000"/>
<rect x="1025" y="282" width="9" height="4" fill="#FF0000"/>
<rect x="1045" y="164" width="1" height="20" fill="#000"/>
<rect x="1045" y="282" width="1" height="9" fill="#000"/>
<rect x="1040" y="184" width="11" height="98" fill="#000"/>
<rect x="1041" y="185" width="9" height="96" fill="#FF0000"/>
<rect x="1061" y="124" width="1" height="14" fill="#000"/>
<rect x="1061" y="184" width="1" height="62" fill="#000"/>
<rect x="1056" y="138" width="11" height="46" fill="#000"/>
<rect x="1057" y="139" width="9" height="44" fill="#FF0000"/>
<rect x="1077" y="116" width="1" height="22" fill="#000"/>
<rect x="1077" y="152" width="1" height="10" fill="#000"/>
<rect x="1072" y="138" width="11" height="14" fill="#000"/>
<rect x="1073" y="139" width="9" height="12" fill="#00FF00"/>
<rect x="1093" y="140" width="1" height="12" fill="#000"/>
<rect x="1093" y="162" width="1" height="1" fill="#000"/>
<rect x="1088" y="152" width="11" height="10" fill="#000"/>
<rect x="1089" y="153" width="9" height="8" fill="#00FF00"/>
<rect x="1109" y="124" width="1" height="22" fill="#000"/>
<rect x="1109" y="162" width="1" height="6" fill="#000"/>
<rect x="1104" y="146" width="11" height="16" fill="#000"/>
<rect x="1105" y="147" width="9" height="14" fill="#FF0000"/>
<rect x="1125" y="142" width="1" height="3" fill="#000"/>
<rect x="1125" y="158" width="1" height="29" fill="#000"/>
<rect x="1120" y="145" width="11" height="13" fill="#000"/>
<rect x="1121" y="146" width="9" height="11" fill="#00FF00"/>
<rect x="1141" y="156" width="1" height="4" fill="#000"/>
<rect x="1141" y="222" width="1" height="16" fill="#000"/>
<rect x="1136" y="160" width="11" height="62" fill="#000"/>
<rect x="1137" y="161" width="9" height="60" fill="#00FF00"/>
<rect x="1157" y="168" width="1" height="46" fill="#000"/>
<rect x="1157" y="222" width="1" height="21" fill="#000"/>
<rect x="1152" y="214" width="11" height="8" fill="#000"/>
<rect x="1153" y="215" width="9" height="6" fill="#FF0000"/>
<rect x="1173" y="204" width="1" height="11" fill="#000"/>
<rect x="1173" y="234" width="1" height="12" fill="#000"/>
<rect x="1168" y="215" width="11" height="19" fill="#000"/>
<rect x="1169" y="216" width="9" height="17" fill="#00FF00"/>
<rect x="1189" y="191" width="1" height="4" fill="#000"/>
<rect x="1189" y="199" width="1" height="10" fill="#000"/>
<rect x="1184" y="195" width="11" height="4" fill="#000"/>
<rect x="1185" y="196" width="9" height="2" fill="#FF0000"/>
<rect x="1205" y="189" width="1" height="5" fill="#000"/>
<rect x="1205" y="200" width="1" height="10" fill="#000"/>
<rect x="1200" y="194" width="11" height="6" fill="#000"/>
<rect x="1201" y="195" width="9" height="4" fill="#00FF00"/>
<rect x="1221" y="159" width="1" height="26" fill="#000"/>
<rect x="1221" y="200" width="1" height="10" fill="#000"/>
<rect x="1216" y="185" width="11" height="15" fill="#000"/>
<rect x="1217" y="186" width="9" height="13" fill="#FF0000"/>
<rect x="1237" y="144" width="1" height="20" fill="#000"/>
<rect x="1237" y="186" width="1" height="19" fill="#000"/>
<rect x="1232" y="164" width="11" height="22" fill="#000"/>
<rect x="1233" y="165" width="9" height="20" fill="#FF0000"/>
<rect x="1253" y="82" width="1" height="9" fill="#000"/>
<rect x="1253" y="165" width="1" height="4" fill="#000"/>
<rect x="1248" y="91" width="11" height="74" fill="#000"/>
<rect x="1249" y="92" width="9" height="72" fill="#FF0000"/>
<rect x="1269" y="88" width="1" height="3" fill="#000"/>
<rect x="1269" y="135" width="1" height="3" fill="#000"/>
<rect x="1264" y="91" width="11" height="44" fill="#000"/>
<rect x="1265" y="92" width="9" height="42" fill="#00FF00"/>
<rect x="1285" y="126" width="1" height="10" fill="#000"/>
<rect x="5" y="60" width="1636" height="2" fill="#FF0000"/>
<rect x="5" y="97" width="1636" height="2" fill="#FF0000"/>
<rect x="5" y="151" width="1636" height="2" fill="#FFA500"/>
<rect x="5" y="187" width="1636" height="2" fill="#0000FF"/>
<rect x="5" y="221" width="1636" height="2" fill="#0000FF"/>
</g>
<rect x="4" y="58" width="6" height="6" fill="#FF0000"/><rect x="6" y="60" width="2" height="2" fill="#fff"/>
<rect x="1635" y="58" width="6" height="6" fill="#FF0000"/><rect x="1637" y="60" width="2" height="2" fill="#fff"/>
<rect x="4" y="95" width="6" height="6" fill="#FF0000"/><rect x="6" y="97" width="2" height="2" fill="#fff"/>
<rect x="1635" y="95" width="6" height="6" fill="#FF0000"/><rect x="1637" y="97" width="2" height="2" fill="#fff"/>
<rect x="4" y="149" width="6" height="6" fill="#FFA500"/><rect x="6" y="151" width="2" height="2" fill="#fff"/>
<rect x="1635" y="149" width="6" height="6" fill="#FFA500"/><rect x="1637" y="151" width="2" height="2" fill="#fff"/>
<rect x="4" y="185" width="6" height="6" fill="#0000FF"/><rect x="6" y="187" width="2" height="2" fill="#fff"/>
<rect x="1635" y="185" width="6" height="6" fill="#0000FF"/><rect x="1637" y="187" width="2" height="2" fill="#fff"/>
<rect x="4" y="219" width="6" height="6" fill="#0000FF"/><rect x="6" y="221" width="2" height="2" fill="#fff"/>
<rect x="1635" y="219" width="6" height="6" fill="#0000FF"/><rect x="1637" y="221" width="2" height="2" fill="#fff"/>
<g shape-rendering="geometricPrecision"><line x1="1207" y1="247" x2="1313" y2="149.5" stroke="#E8151F" stroke-width="3.4"/><polygon points="1325.5,138.6 1306.2,144.2 1311.6,149.6 1318.6,157.2" fill="#E8151F"/></g>
<polygon shape-rendering="geometricPrecision" points="1307.5,24 1317.5,24 1312.5,29.5" fill="#000"/>
<rect x="1642" y="56" width="2" height="1" fill="#000"/>
<text x="1645.5" y="60" class="ax">1.14855</text>
<rect x="1642" y="89" width="2" height="1" fill="#000"/>
<text x="1645.5" y="93" class="ax">1.14270</text>
<rect x="1642" y="122" width="2" height="1" fill="#000"/>
<text x="1645.5" y="126" class="ax">1.13685</text>
<rect x="1642" y="155" width="2" height="1" fill="#000"/>
<text x="1645.5" y="159" class="ax">1.13100</text>
<rect x="1642" y="188" width="2" height="1" fill="#000"/>
<text x="1645.5" y="192" class="ax">1.12515</text>
<rect x="1642" y="221" width="2" height="1" fill="#000"/>
<text x="1645.5" y="225" class="ax">1.11930</text>
<rect x="1642" y="254" width="2" height="1" fill="#000"/>
<text x="1645.5" y="258" class="ax">1.11360</text>
<rect x="1642" y="287" width="2" height="1" fill="#000"/>
<text x="1645.5" y="291" class="ax">1.10775</text>
<rect x="1642" y="320" width="2" height="1" fill="#000"/>
<text x="1645.5" y="324" class="ax">1.10190</text>
<rect x="1642" y="353" width="2" height="1" fill="#000"/>
<text x="1645.5" y="357" class="ax">1.09605</text>
<rect x="1642" y="386" width="2" height="1" fill="#000"/>
<text x="1645.5" y="390" class="ax">1.09020</text>
<rect x="1642" y="419" width="2" height="1" fill="#000"/>
<text x="1645.5" y="423" class="ax">1.08435</text>
<rect x="1642" y="452" width="2" height="1" fill="#000"/>
<text x="1645.5" y="456" class="ax">1.07850</text>
<rect x="1642" y="485" width="2" height="1" fill="#000"/>
<text x="1645.5" y="489" class="ax">1.07265</text>
<rect x="1642" y="518" width="2" height="1" fill="#000"/>
<text x="1645.5" y="522" class="ax">1.06695</text>
<rect x="1642" y="551" width="2" height="1" fill="#000"/>
<text x="1645.5" y="555" class="ax">1.06110</text>
<rect x="1642" y="584" width="2" height="1" fill="#000"/>
<text x="1645.5" y="588" class="ax">1.05525</text>
<rect x="1643" y="55" width="41" height="11" fill="#FF0000"/>
<text x="1646.5" y="64" class="ax axw">1.14757</text>
<rect x="1643" y="92" width="41" height="11" fill="#FF0000"/>
<text x="1646.5" y="101" class="ax axw">1.14105</text>
<rect x="1643" y="129" width="41" height="11" fill="#000000"/>
<text x="1646.5" y="138" class="ax axw">1.13476</text>
<rect x="1643" y="146" width="41" height="11" fill="#FFA500"/>
<text x="1646.5" y="155" class="ax axw">1.13152</text>
<rect x="1643" y="182" width="41" height="11" fill="#0000FF"/>
<text x="1646.5" y="191" class="ax axw">1.12517</text>
<rect x="1643" y="216" width="41" height="11" fill="#0000FF"/>
<text x="1646.5" y="225" class="ax axw">1.11918</text>
<g clip-path="url(#cmacd)">
<rect x="132" y="641" width="3" height="5" fill="#00FF00"/>
<rect x="148" y="636" width="3" height="10" fill="#00FF00"/>
<rect x="164" y="630" width="3" height="16" fill="#00FF00"/>
<rect x="180" y="629" width="3" height="17" fill="#00FF00"/>
<rect x="196" y="625" width="3" height="21" fill="#00FF00"/>
<rect x="212" y="622" width="3" height="24" fill="#00FF00"/>
<rect x="228" y="620" width="3" height="26" fill="#00FF00"/>
<rect x="244" y="620" width="3" height="26" fill="#00FF00"/>
<rect x="260" y="617" width="3" height="29" fill="#00FF00"/>
<rect x="276" y="615" width="3" height="31" fill="#00FF00"/>
<rect x="292" y="612" width="3" height="34" fill="#00FF00"/>
<rect x="308" y="609" width="3" height="37" fill="#00FF00"/>
<rect x="324" y="606" width="3" height="40" fill="#00FF00"/>
<rect x="340" y="605" width="3" height="41" fill="#00FF00"/>
<rect x="356" y="602" width="3" height="44" fill="#00FF00"/>
<rect x="372" y="602" width="3" height="44" fill="#00FF00"/>
<rect x="388" y="599" width="3" height="47" fill="#00FF00"/>
<rect x="404" y="597" width="3" height="49" fill="#00FF00"/>
<rect x="420" y="596" width="3" height="50" fill="#00FF00"/>
<rect x="436" y="596" width="3" height="50" fill="#00FF00"/>
<rect x="452" y="598" width="3" height="48" fill="#00FF00"/>
<rect x="468" y="602" width="3" height="44" fill="#00FF00"/>
<rect x="484" y="608" width="3" height="38" fill="#00FF00"/>
<rect x="500" y="611" width="3" height="35" fill="#00FF00"/>
<rect x="516" y="613" width="3" height="33" fill="#00FF00"/>
<rect x="532" y="615" width="3" height="31" fill="#00FF00"/>
<rect x="548" y="618" width="3" height="28" fill="#00FF00"/>
<rect x="564" y="622" width="3" height="24" fill="#00FF00"/>
<rect x="580" y="630" width="3" height="16" fill="#00FF00"/>
<rect x="596" y="636" width="3" height="10" fill="#00FF00"/>
<rect x="612" y="640" width="3" height="6" fill="#00FF00"/>
<rect x="628" y="643" width="3" height="3" fill="#00FF00"/>
<rect x="1060" y="639" width="3" height="7" fill="#00FF00"/>
<rect x="1076" y="634" width="3" height="12" fill="#00FF00"/>
<rect x="1092" y="631" width="3" height="15" fill="#00FF00"/>
<rect x="1108" y="627" width="3" height="19" fill="#00FF00"/>
<rect x="1124" y="625" width="3" height="21" fill="#00FF00"/>
<rect x="1140" y="628" width="3" height="18" fill="#00FF00"/>
<rect x="1156" y="629" width="3" height="17" fill="#00FF00"/>
<rect x="1172" y="632" width="3" height="14" fill="#00FF00"/>
<rect x="1188" y="632" width="3" height="14" fill="#00FF00"/>
<rect x="1204" y="632" width="3" height="14" fill="#00FF00"/>
<rect x="1220" y="632" width="3" height="14" fill="#00FF00"/>
<rect x="1236" y="630" width="3" height="16" fill="#00FF00"/>
<rect x="1252" y="626" width="3" height="20" fill="#00FF00"/>
<rect x="1268" y="625" width="3" height="21" fill="#00FF00"/>
<rect x="1284" y="624" width="3" height="22" fill="#00FF00"/>
<rect x="4" y="646" width="3" height="48" fill="#00FF00"/>
<rect x="20" y="646" width="3" height="40" fill="#00FF00"/>
<rect x="36" y="646" width="3" height="35" fill="#00FF00"/>
<rect x="52" y="646" width="3" height="32" fill="#00FF00"/>
<rect x="68" y="646" width="3" height="29" fill="#00FF00"/>
<rect x="84" y="646" width="3" height="24" fill="#00FF00"/>
<rect x="100" y="646" width="3" height="15" fill="#00FF00"/>
<rect x="116" y="646" width="3" height="6" fill="#00FF00"/>
<rect x="644" y="646" width="3" height="1" fill="#00FF00"/>
<rect x="660" y="646" width="3" height="2" fill="#00FF00"/>
<rect x="676" y="646" width="3" height="6" fill="#00FF00"/>
<rect x="692" y="646" width="3" height="10" fill="#00FF00"/>
<rect x="708" y="646" width="3" height="13" fill="#00FF00"/>
<rect x="724" y="646" width="3" height="15" fill="#00FF00"/>
<rect x="740" y="646" width="3" height="16" fill="#00FF00"/>
<rect x="756" y="646" width="3" height="18" fill="#00FF00"/>
<rect x="772" y="646" width="3" height="19" fill="#00FF00"/>
<rect x="788" y="646" width="3" height="20" fill="#00FF00"/>
<rect x="804" y="646" width="3" height="19" fill="#00FF00"/>
<rect x="820" y="646" width="3" height="20" fill="#00FF00"/>
<rect x="836" y="646" width="3" height="21" fill="#00FF00"/>
<rect x="852" y="646" width="3" height="17" fill="#00FF00"/>
<rect x="868" y="646" width="3" height="15" fill="#00FF00"/>
<rect x="884" y="646" width="3" height="17" fill="#00FF00"/>
<rect x="900" y="646" width="3" height="20" fill="#00FF00"/>
<rect x="916" y="646" width="3" height="22" fill="#00FF00"/>
<rect x="932" y="646" width="3" height="23" fill="#00FF00"/>
<rect x="948" y="646" width="3" height="21" fill="#00FF00"/>
<rect x="964" y="646" width="3" height="17" fill="#00FF00"/>
<rect x="980" y="646" width="3" height="14" fill="#00FF00"/>
<rect x="996" y="646" width="3" height="12" fill="#00FF00"/>
<rect x="1012" y="646" width="3" height="10" fill="#00FF00"/>
<rect x="1028" y="646" width="3" height="9" fill="#00FF00"/>
<rect x="1044" y="646" width="3" height="2" fill="#00FF00"/>
<polyline points="5.5,701.25 21.5,699.25 37.5,695.5 53.5,693 69.5,689.5 85.5,685.75 101.5,681.5 117.5,677 133.5,669.5 149.5,663.5 165.5,657.5 181.5,652.5 197.5,646.25 213.5,640 229.5,635.5 245.5,630 261.5,627.5 277.5,624.5 293.5,621.25 309.5,618.75 325.5,616.25 341.5,614.5 357.5,612.5 373.5,610.5 389.5,608 405.5,605 421.5,603.25 437.5,601.25 453.5,600 469.5,600 485.5,600 501.5,601.25 517.5,602.5 533.5,604.25 549.5,605.75 565.5,608.75 581.5,612.5 597.5,617 613.5,622 629.5,626.25 645.5,628.75 661.5,632.5 677.5,637 693.5,641.25 709.5,645.5 725.5,648 741.5,651.25 757.5,654.25 773.5,656.25 789.5,658.25 805.5,660 821.5,661.75 837.5,663 853.5,663.75 869.5,663.75 885.5,664 901.5,664 917.5,664.5 933.5,665 949.5,665 965.5,665 981.5,664.5 997.5,663.5 1013.5,662.5 1029.5,661.5 1045.5,660 1061.5,655.75 1077.5,653 1093.5,649.5 1109.5,645 1125.5,640.75 1141.5,638 1157.5,635.5 1173.5,633.25 1189.5,631.25 1205.5,630.25 1221.5,630 1237.5,630 1253.5,630 1269.5,630 1285.5,630" fill="none" stroke="#FF0000" stroke-width="2"/>
</g>
<rect x="1642" y="591" width="2" height="1" fill="#000"/><rect x="1642" y="646" width="2" height="1" fill="#000"/><rect x="1642" y="706" width="2" height="1" fill="#000"/>
<text x="1644.5" y="600" class="ax">0.014019</text><text x="1644.5" y="650" class="ax">0.00</text><text x="1644.5" y="704" class="ax">-0.015428</text>
<line x1="6" y1="735.5" x2="1641" y2="735.5" stroke="#000" stroke-width="1" stroke-dasharray="3 3"/>
<line x1="6" y1="771.5" x2="1641" y2="771.5" stroke="#000" stroke-width="1" stroke-dasharray="3 3"/>
<line x1="6" y1="814.5" x2="1641" y2="814.5" stroke="#000" stroke-width="1" stroke-dasharray="3 3"/>
<g clip-path="url(#crsi)">
<polyline points="5.5,773.75 21.5,772 37.5,774 53.5,777 69.5,777 85.5,771.25 101.5,760 117.5,760 133.5,755 149.5,760.75 165.5,757 181.5,765.5 197.5,761.25 213.5,759.75 229.5,762.75 245.5,762.75 261.5,758 277.5,757.75 293.5,755.25 309.5,753 325.5,752.75 341.5,754 357.5,751 373.5,755.75 389.5,750.25 405.5,750 421.5,751.25 437.5,753 453.5,756.25 469.5,762.5 485.5,768.75 501.5,765 517.5,762.5 533.5,762 549.5,765 565.5,771.25 581.5,781.75 597.5,780 613.5,779.25 629.5,778.25 645.5,777.5 661.5,776 677.5,783.75 693.5,785.5 709.5,785.5 725.5,785.5 741.5,785.5 757.5,786.25 773.5,788.75 789.5,786.25 805.5,783 821.5,787.5 837.5,788.75 853.5,777.5 869.5,768.75 885.5,785.5 901.5,787.5 917.5,787.5 933.5,784.5 949.5,775.5 965.5,771.5 981.5,771 997.5,771 1013.5,772.5 1029.5,772.5 1045.5,755 1061.5,750.75 1077.5,753.5 1093.5,754.75 1109.5,753.75 1125.5,756.25 1141.5,768.75 1157.5,768.75 1173.5,771 1189.5,765.75 1205.5,765.75 1221.5,763 1237.5,760.5 1253.5,750.5 1269.5,758.5 1285.5,758.5" fill="none" stroke="#1E90FF" stroke-width="2"/>
</g>
<rect x="1642" y="711" width="1" height="1" fill="#000"/>
<text x="1644.8" y="720" class="ax">100</text>
<text x="1643.3" y="739" class="ax">80</text>
<text x="1643.3" y="775" class="ax">50</text>
<text x="1643.8" y="818" class="ax">15</text>
<text x="1644.3" y="830" class="ax">0</text>
<rect x="5" y="834" width="1" height="3" fill="#000"/>
<text x="4.2" y="846" class="ax">28 Sep 2022</text>
<rect x="69" y="834" width="1" height="3" fill="#000"/>
<text x="68.2" y="846" class="ax">29 Sep 04:00</text>
<rect x="133" y="834" width="1" height="3" fill="#000"/>
<text x="132.2" y="846" class="ax">29 Sep 20:00</text>
<rect x="197" y="834" width="1" height="3" fill="#000"/>
<text x="196.2" y="846" class="ax">30 Sep 12:00</text>
<rect x="261" y="834" width="1" height="3" fill="#000"/>
<text x="260.2" y="846" class="ax">3 Oct 04:00</text>
<rect x="325" y="834" width="1" height="3" fill="#000"/>
<text x="324.2" y="846" class="ax">3 Oct 20:00</text>
<rect x="389" y="834" width="1" height="3" fill="#000"/>
<text x="388.2" y="846" class="ax">4 Oct 12:00</text>
<rect x="453" y="834" width="1" height="3" fill="#000"/>
<text x="452.2" y="846" class="ax">5 Oct 04:00</text>
<rect x="517" y="834" width="1" height="3" fill="#000"/>
<text x="516.2" y="846" class="ax">5 Oct 20:00</text>
<rect x="581" y="834" width="1" height="3" fill="#000"/>
<text x="580.2" y="846" class="ax">6 Oct 12:00</text>
<rect x="645" y="834" width="1" height="3" fill="#000"/>
<text x="644.2" y="846" class="ax">7 Oct 04:00</text>
<rect x="709" y="834" width="1" height="3" fill="#000"/>
<text x="708.2" y="846" class="ax">9 Oct 23:00</text>
<rect x="773" y="834" width="1" height="3" fill="#000"/>
<text x="772.2" y="846" class="ax">10 Oct 12:00</text>
<rect x="837" y="834" width="1" height="3" fill="#000"/>
<text x="836.2" y="846" class="ax">11 Oct 04:00</text>
<rect x="901" y="834" width="1" height="3" fill="#000"/>
<text x="900.2" y="846" class="ax">11 Oct 20:00</text>
<rect x="965" y="834" width="1" height="3" fill="#000"/>
<text x="964.2" y="846" class="ax">12 Oct 12:00</text>
<rect x="1029" y="834" width="1" height="3" fill="#000"/>
<text x="1028.2" y="846" class="ax">13 Oct 04:00</text>
<rect x="1093" y="834" width="1" height="3" fill="#000"/>
<text x="1092.2" y="846" class="ax">13 Oct 20:00</text>
<rect x="1157" y="834" width="1" height="3" fill="#000"/>
<text x="1156.2" y="846" class="ax">14 Oct 12:00</text>
<rect x="1221" y="834" width="1" height="3" fill="#000"/>
<text x="1220.2" y="846" class="ax">17 Oct 04:00</text>
<rect x="1285" y="834" width="1" height="3" fill="#000"/>
<text x="1284.2" y="846" class="ax">17 Oct 20:00</text>
<polygon points="8,30 15,30 11.5,34" fill="#000" shape-rendering="geometricPrecision"/>
<text x="20.3" y="35" class="ax" style="letter-spacing:0.45px">GBPUSD-,H4</text><text x="83.3" y="35" class="ax" style="letter-spacing:-0.2px">1.13474 1.13625 1.13457 1.13476</text>
<text x="9.4" y="602" class="ax" style="letter-spacing:0px">MACD(12,26,9) 0.005494 0.004177</text>
<text x="9.4" y="722" class="ax" style="letter-spacing:0.03px">RSI(14) 59.9325</text>
</svg>
</body></html>
